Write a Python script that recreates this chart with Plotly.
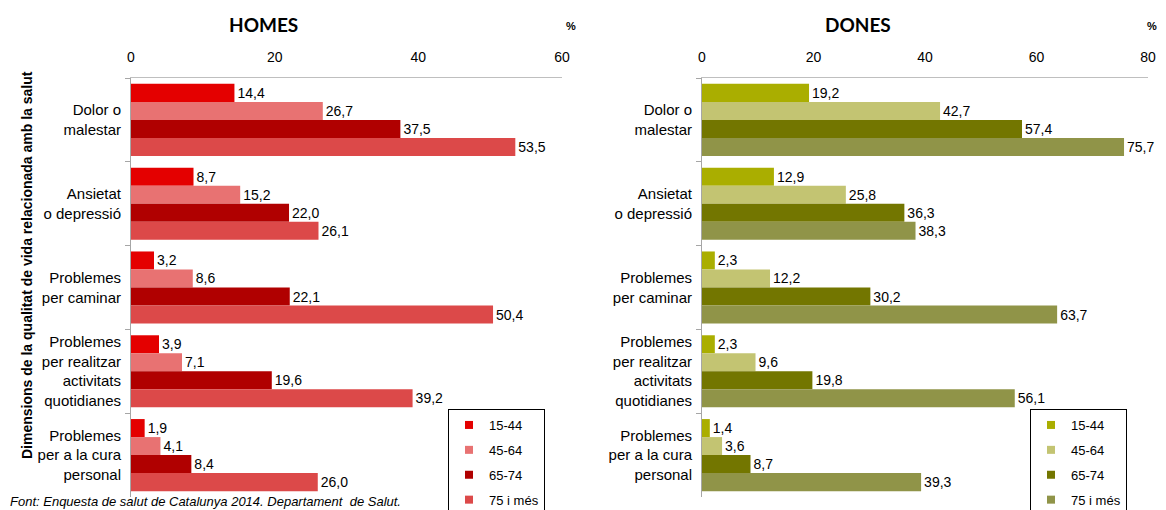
import plotly.graph_objects as go

# Dimensions (categories), top to bottom
categories = [
    "Dolor o<br>malestar",
    "Ansietat<br>o depressió",
    "Problemes<br>per caminar",
    "Problemes<br>per realitzar<br>activitats<br>quotidianes",
    "Problemes<br>per a la cura<br>personal",
]
age_groups = ["15-44", "45-64", "65-74", "75 i més"]

homes_15_44 = [14.4, 8.7, 3.2, 3.9, 1.9]
homes_45_64 = [26.7, 15.2, 8.6, 7.1, 4.1]
homes_65_74 = [37.5, 22.0, 22.1, 19.6, 8.4]
homes_75_mes = [53.5, 26.1, 50.4, 39.2, 26.0]

dones_15_44 = [19.2, 12.9, 2.3, 2.3, 1.4]
dones_45_64 = [42.7, 25.8, 12.2, 9.6, 3.6]
dones_65_74 = [57.4, 36.3, 30.2, 19.8, 8.7]
dones_75_mes = [75.7, 38.3, 63.7, 56.1, 39.3]

homes_colors = ["#E40000", "#E87272", "#B00000", "#DC4949"]
dones_colors = ["#AAAE00", "#C3C472", "#737600", "#909448"]

W, H = 1166, 510
ARIAL = "Liberation Sans, Arial"
VALUE_FONT = dict(family=ARIAL, size=14, color="#000000")
CAT_FONT = dict(family=ARIAL, size=15, color="#000000")

fig = go.Figure()

homes = [homes_15_44, homes_45_64, homes_65_74, homes_75_mes]
dones = [dones_15_44, dones_45_64, dones_65_74, dones_75_mes]


def add_panel(series, colors, xa, ya, legend):
    for i, (name, vals) in enumerate(zip(age_groups, series)):
        fig.add_trace(go.Bar(
            x=vals, y=categories, orientation="h", name=name,
            marker=dict(color=colors[i], line=dict(width=0)),
            texttemplate="%{x:.1f}", textposition="outside", textfont=VALUE_FONT,
            cliponaxis=False, xaxis=xa, yaxis=ya, showlegend=False,
        ))
    # small square swatches for the legend
    for i, name in enumerate(age_groups):
        fig.add_trace(go.Scatter(
            x=[None], y=[None], mode="markers", name=name,
            marker=dict(symbol="square", size=8, color=colors[i]),
            xaxis=xa, yaxis=ya, legend=legend, legendgroup=f"{legend}{i}",
        ))


add_panel(homes, homes_colors, "x", "y", "legend")
add_panel(dones, dones_colors, "x2", "y2", "legend2")

y_top = 1 - 78 / H
y_bot = 1 - 497 / H

xaxis_common = dict(
    side="top", showgrid=False, zeroline=False, showline=True,
    linecolor="#BFBFBF", linewidth=1, ticks="outside", ticklen=9,
    tickcolor="rgba(0,0,0,0)", tickfont=VALUE_FONT, dtick=20,
    fixedrange=True, automargin=False,
)
yaxis_common = dict(
    autorange="reversed", showgrid=False, zeroline=False, showline=True,
    linecolor="#A6A6A6", linewidth=1, ticks="outside", ticklen=5,
    tickcolor="#A6A6A6", tickson="boundaries", tickfont=CAT_FONT,
    domain=[y_bot, y_top], automargin=False, ticklabelstandoff=6,
    fixedrange=True,
)

legend_common = dict(
    bordercolor="#000000", borderwidth=1, bgcolor="#FFFFFF",
    font=dict(family=ARIAL, size=13, color="#000000"),
    xanchor="left", yanchor="top", tracegroupgap=5, itemwidth=30,
)

fig.update_layout(
    width=W, height=H,
    margin=dict(l=0, r=0, t=0, b=0, pad=0, autoexpand=False),
    paper_bgcolor="#FFFFFF", plot_bgcolor="#FFFFFF",
    separators=", ",
    barmode="group", bargap=0.14, bargroupgap=0,
    xaxis=dict(xaxis_common, domain=[131 / W, 562 / W], range=[0, 60], anchor="y"),
    yaxis=dict(yaxis_common, anchor="x"),
    xaxis2=dict(xaxis_common, domain=[702 / W, 1148 / W], range=[0, 80], anchor="y2"),
    yaxis2=dict(yaxis_common, anchor="x2"),
    legend=dict(legend_common, x=448 / W, y=1 - 409 / H),
    legend2=dict(legend_common, x=1030 / W, y=1 - 409 / H),
    showlegend=True,
)

title_font = dict(family="Lato, Open Sans", size=19, color="#000000")
fig.add_annotation(text="<b>HOMES</b>", x=263 / W, y=1 - 24 / H, xref="paper", yref="paper",
                   showarrow=False, font=title_font, xanchor="center", yanchor="middle")
fig.add_annotation(text="<b>DONES</b>", x=858 / W, y=1 - 24 / H, xref="paper", yref="paper",
                   showarrow=False, font=title_font, xanchor="center", yanchor="middle")

pct_font = dict(family=ARIAL, size=11, color="#000000")
fig.add_annotation(text="<b>%</b>", x=571 / W, y=1 - 18 / H, xref="paper", yref="paper",
                   showarrow=False, font=pct_font)
fig.add_annotation(text="<b>%</b>", x=1159 / W, y=1 - 18 / H, xref="paper", yref="paper",
                   showarrow=False, font=pct_font)

fig.add_annotation(
    text="<b>Dimensions de la qualitat de vida relacionada amb la salut</b>",
    x=17 / W, y=1 - 265 / H, xref="paper", yref="paper", showarrow=False,
    textangle=-90, font=dict(family=ARIAL, size=14, color="#000000"),
)

fig.add_annotation(
    text="<i>Font: Enquesta de salut de Catalunya 2014. Departament  de Salut.</i>",
    x=8 / W, y=1 - 501 / H, xref="paper", yref="paper", showarrow=False,
    xanchor="left", yanchor="middle",
    font=dict(family=ARIAL, size=13, color="#000000"),
)

# the page body has a default 8px margin; drop it so the figure fills the window
fig.write_html(
    "out.html",
    config={"displayModeBar": False},
    post_script="document.body.style.margin='0';",
)
